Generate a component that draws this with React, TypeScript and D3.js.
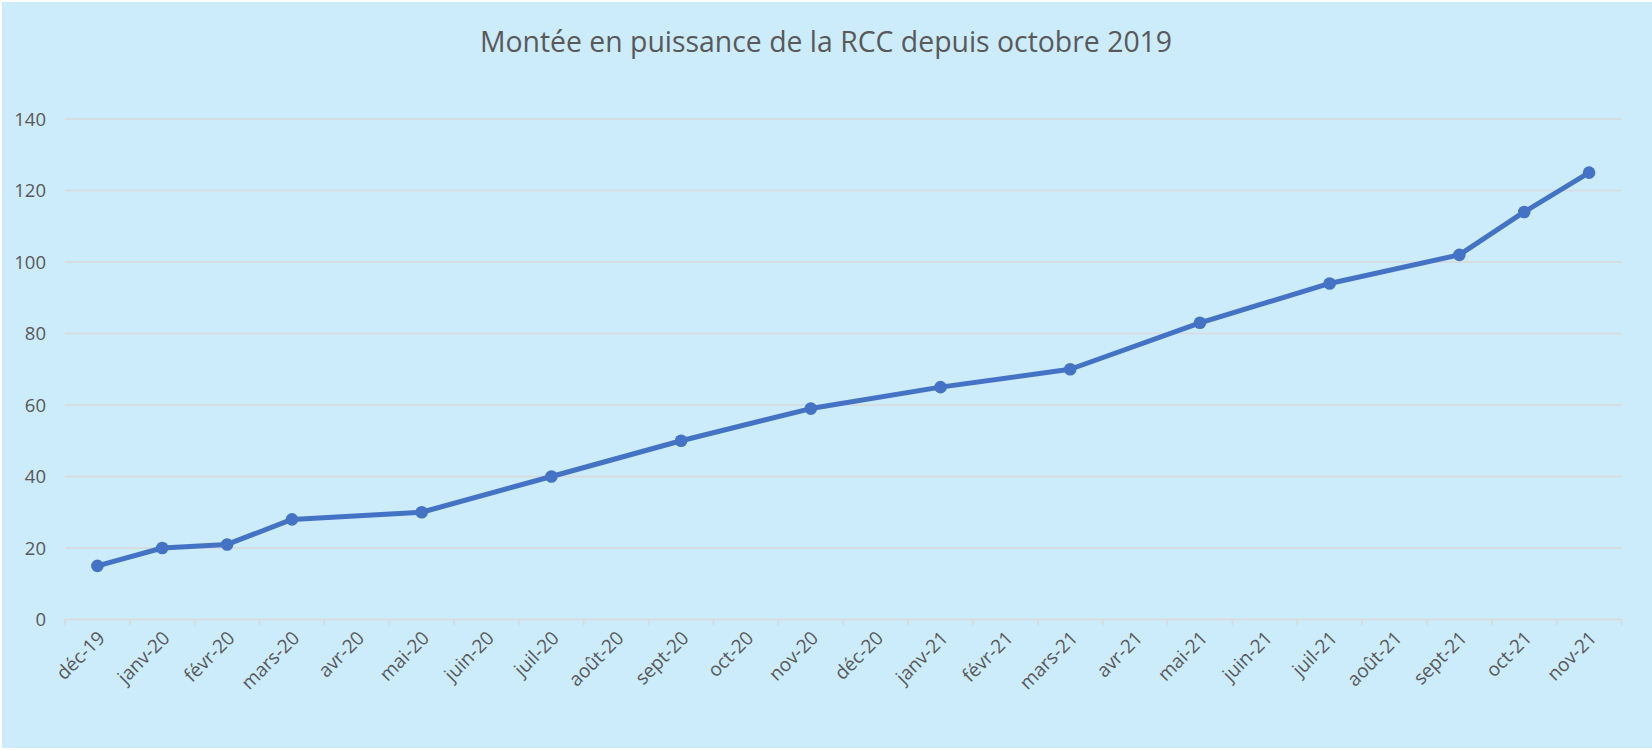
import React from "react";
import * as d3 from "d3";

const title = "Montée en puissance de la RCC depuis octobre 2019";
const months = [
  "déc-19", "janv-20", "févr-20", "mars-20", "avr-20", "mai-20", "juin-20", "juil-20",
  "août-20", "sept-20", "oct-20", "nov-20", "déc-20", "janv-21", "févr-21", "mars-21",
  "avr-21", "mai-21", "juin-21", "juil-21", "août-21", "sept-21", "oct-21", "nov-21",
];
const pointMonths = [
  "déc-19", "janv-20", "févr-20", "mars-20", "mai-20", "juil-20", "sept-20", "nov-20",
  "janv-21", "mars-21", "mai-21", "juil-21", "sept-21", "oct-21", "nov-21",
];
const pointValues = [15, 20, 21, 28, 30, 40, 50, 59, 65, 70, 83, 94, 102, 114, 125];
const yTicks = [0, 20, 40, 60, 80, 100, 120, 140];

const W = 1652;
const H = 750;
const FONT = "'Open Sans', 'Noto Sans', sans-serif";
const TEXT = "#595959";
const GRID = "#D9D9D9";
const LINE = "#4472C4";

export default function App() {
  const x = d3.scaleBand<string>().domain(months).range([65, 1621.5]).padding(0);
  const y = d3.scaleLinear().domain([0, 140]).range([619.5, 119]);
  const cx = (m: string) => (x(m) as number) + x.bandwidth() / 2;
  const pts = pointMonths.map((m, i) => ({ m, v: pointValues[i] }));
  const line = d3
    .line<{ m: string; v: number }>()
    .x((d) => cx(d.m))
    .y((d) => y(d.v));
  const boundaries = months.map((m) => x(m) as number).concat([x.range()[1]]);

  return (
    <svg
      width={W}
      height={H}
      style={{ position: "absolute", left: 0, top: 0, display: "block" }}
    >
      <rect x={0} y={0} width={W} height={H} fill="#ffffff" />
      <rect x={2} y={2} width={W - 2} height={H - 4} fill="#CCEBFB" />
      <text
        x={W / 2}
        y={52}
        textAnchor="middle"
        fontFamily={FONT}
        fontSize={28.4}
        fill={TEXT}
      >
        {title}
      </text>
      {yTicks.map((t) => (
        <g key={t}>
          {t !== 0 && (
            <line
              x1={x.range()[0]}
              x2={x.range()[1]}
              y1={y(t)}
              y2={y(t)}
              stroke={GRID}
              strokeWidth={1.3}
            />
          )}
          <text
            x={46}
            y={y(t)}
            dy="0.36em"
            textAnchor="end"
            fontFamily={FONT}
            fontSize={18.5}
            fill={TEXT}
          >
            {t}
          </text>
        </g>
      ))}
      <line
        x1={x.range()[0]}
        x2={x.range()[1]}
        y1={y(0)}
        y2={y(0)}
        stroke={GRID}
        strokeWidth={1.5}
      />
      {boundaries.map((b, i) => (
        <line key={i} x1={b} x2={b} y1={y(0)} y2={y(0) + 6} stroke={GRID} strokeWidth={1.5} />
      ))}
      {months.map((m) => (
        <text
          key={m}
          transform={`translate(${cx(m) + 4},${y(0) + 15}) rotate(-45)`}
          textAnchor="end"
          dy="0.35em"
          fontFamily={FONT}
          fontSize={19}
          fill={TEXT}
        >
          {m}
        </text>
      ))}
      <path
        d={line(pts) || ""}
        fill="none"
        stroke={LINE}
        strokeWidth={5}
        strokeLinejoin="round"
        strokeLinecap="round"
      />
      {pts.map((p) => (
        <circle key={p.m} cx={cx(p.m)} cy={y(p.v)} r={6.3} fill={LINE} />
      ))}
    </svg>
  );
}
